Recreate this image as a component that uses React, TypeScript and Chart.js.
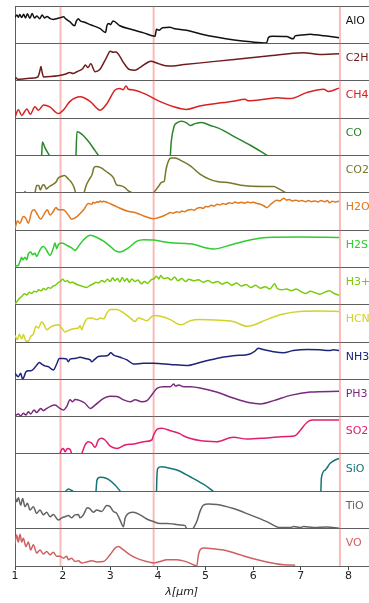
import { useEffect, useRef } from "react";
import { Chart, registerables } from "chart.js";

Chart.register(...registerables);

type Pt = [number, number | null];

// Normalised cross-section spectra, one panel per molecule (value 0..1 within its panel).
const ALO: Pt[] = [[1.0,0.70],[1.04,0.76],[1.07,0.70],[1.1,0.77],[1.14,0.69],[1.18,0.78],[1.22,0.68],[1.26,0.79],[1.31,0.67],[1.36,0.80],[1.41,0.68],[1.46,0.73],[1.52,0.66],[1.57,0.76],[1.62,0.68],[1.67,0.72],[1.74,0.66],[1.8,0.64],[1.87,0.66],[1.93,0.68],[1.98,0.70],[2.02,0.71],[2.06,0.66],[2.15,0.58],[2.25,0.47],[2.29,0.60],[2.33,0.66],[2.37,0.60],[2.45,0.57],[2.6,0.49],[2.78,0.40],[2.9,0.29],[2.93,0.48],[2.97,0.53],[3.0,0.50],[3.06,0.60],[3.2,0.47],[3.45,0.37],[3.7,0.28],[3.94,0.19],[3.97,0.38],[4.02,0.35],[4.1,0.42],[4.25,0.43],[4.33,0.40],[4.6,0.35],[4.9,0.25],[5.25,0.16],[5.6,0.09],[5.95,0.04],[6.28,0.01],[6.32,0.16],[6.4,0.19],[6.7,0.18],[6.84,0.12],[6.88,0.20],[7.0,0.22],[7.2,0.24],[7.3,0.23],[7.5,0.20],[7.8,0.15]];

const C2H2: Pt[] = [[1.0,0.03],[1.02,0.08],[1.05,0.04],[1.2,0.05],[1.4,0.07],[1.48,0.10],[1.52,0.25],[1.545,0.38],[1.57,0.22],[1.6,0.10],[1.75,0.11],[1.9,0.13],[2.05,0.17],[2.15,0.22],[2.22,0.19],[2.3,0.24],[2.42,0.32],[2.48,0.42],[2.53,0.35],[2.59,0.45],[2.68,0.24],[2.78,0.30],[2.92,0.62],[3.0,0.79],[3.06,0.76],[3.12,0.77],[3.2,0.65],[3.28,0.48],[3.4,0.30],[3.52,0.28],[3.62,0.35],[3.8,0.50],[3.85,0.52],[4.0,0.46],[4.22,0.39],[4.55,0.43],[5.0,0.49],[5.6,0.57],[6.3,0.66],[7.05,0.75],[7.4,0.70],[7.8,0.72]];

const CH4: Pt[] = [[1.0,0.02],[1.07,0.22],[1.14,0.07],[1.25,0.24],[1.32,0.10],[1.42,0.30],[1.49,0.21],[1.6,0.35],[1.73,0.30],[1.91,0.12],[2.02,0.22],[2.15,0.44],[2.37,0.57],[2.58,0.44],[2.79,0.21],[2.93,0.39],[3.1,0.75],[3.2,0.79],[3.27,0.76],[3.33,0.86],[3.38,0.77],[3.49,0.75],[3.77,0.62],[3.98,0.48],[4.33,0.30],[4.6,0.23],[4.88,0.32],[5.58,0.45],[5.83,0.50],[5.9,0.46],[6.28,0.51],[6.5,0.54],[6.78,0.52],[7.12,0.68],[7.48,0.77],[7.58,0.71],[7.8,0.80]];

const CO: Pt[] = [[1.56,0],[1.575,0.36],[1.63,0.20],[1.72,0],[1.73,null],[2.28,0],[2.30,0.63],[2.40,0.57],[2.54,0.375],[2.68,0.125],[2.75,0],[2.76,null],[4.26,0],[4.28,0.37],[4.34,0.78],[4.4,0.87],[4.5,0.91],[4.6,0.87],[4.68,0.80],[4.78,0.85],[4.92,0.88],[5.1,0.80],[5.27,0.73],[5.59,0.51],[5.94,0.27],[6.29,0]];

const CO2: Pt[] = [[1.2,0],[1.21,0.03],[1.22,0],[1.23,null],[1.42,0],[1.455,0.19],[1.5,0.19],[1.53,0.07],[1.575,0.19],[1.61,0.21],[1.66,0.10],[1.72,0.165],[1.78,0.21],[1.87,0.30],[1.9,0.38],[1.98,0.44],[2.04,0.46],[2.1,0.39],[2.17,0.30],[2.24,0.14],[2.27,0],[2.28,null],[2.45,0],[2.5,0.21],[2.57,0.38],[2.62,0.49],[2.65,0.65],[2.7,0.70],[2.8,0.67],[2.9,0.58],[3.07,0.39],[3.13,0.21],[3.2,0.19],[3.3,0.14],[3.38,0.05],[3.46,0],[3.47,null],[3.91,0],[4.01,0.165],[4.08,0.28],[4.13,0.30],[4.17,0.62],[4.22,0.85],[4.27,0.93],[4.36,0.93],[4.5,0.85],[4.68,0.72],[4.89,0.49],[5.1,0.35],[5.24,0.30],[5.52,0.26],[5.8,0.19],[6.22,0.165],[6.43,0.165],[6.54,0.10],[6.68,0]];

const H2O: Pt[] = [[1.0,0.04],[1.05,0.24],[1.1,0.18],[1.175,0.36],[1.23,0.31],[1.28,0.18],[1.35,0.49],[1.4,0.54],[1.455,0.45],[1.54,0.29],[1.6,0.40],[1.68,0.54],[1.735,0.40],[1.8,0.49],[1.86,0.60],[1.9,0.55],[1.945,0.54],[2.015,0.54],[2.12,0.40],[2.19,0.29],[2.3,0.36],[2.44,0.54],[2.54,0.71],[2.61,0.69],[2.64,0.74],[2.68,0.72],[2.72,0.76],[2.76,0.74],[2.79,0.78],[2.82,0.75],[2.85,0.77],[2.93,0.74],[3.14,0.62],[3.35,0.51],[3.56,0.45],[3.7,0.375],[3.91,0.30],[4.0,0.33],[4.08,0.36],[4.15,0.40],[4.2,0.43],[4.26,0.47],[4.32,0.45],[4.4,0.49],[4.45,0.47],[4.5,0.51],[4.56,0.49],[4.62,0.53],[4.7,0.55],[4.76,0.53],[4.82,0.58],[4.89,0.60],[4.95,0.58],[5.0,0.63],[5.05,0.62],[5.12,0.66],[5.18,0.64],[5.24,0.69],[5.3,0.67],[5.36,0.71],[5.42,0.69],[5.5,0.73],[5.56,0.71],[5.62,0.75],[5.68,0.72],[5.75,0.74],[5.82,0.72],[5.88,0.75],[5.94,0.73],[6.0,0.74],[6.08,0.71],[6.15,0.69],[6.22,0.65],[6.29,0.60],[6.35,0.67],[6.42,0.74],[6.49,0.80],[6.56,0.78],[6.64,0.85],[6.7,0.80],[6.75,0.82],[6.82,0.78],[6.9,0.80],[6.96,0.77],[7.02,0.79],[7.1,0.76],[7.16,0.79],[7.22,0.76],[7.3,0.78],[7.36,0.75],[7.42,0.79],[7.5,0.76],[7.56,0.79],[7.6,0.73],[7.66,0.77],[7.72,0.75],[7.8,0.77]];

const H2S: Pt[] = [[1.0,0.03],[1.07,0.05],[1.105,0.16],[1.14,0.27],[1.16,0.2],[1.21,0.27],[1.245,0.2],[1.28,0.36],[1.33,0.41],[1.37,0.34],[1.42,0.38],[1.455,0.29],[1.51,0.43],[1.56,0.54],[1.6,0.56],[1.665,0.45],[1.735,0.32],[1.805,0.52],[1.84,0.65],[1.875,0.50],[1.91,0.61],[1.98,0.65],[2.085,0.59],[2.19,0.52],[2.26,0.45],[2.33,0.56],[2.44,0.74],[2.58,0.86],[2.72,0.80],[2.86,0.70],[3.0,0.56],[3.1,0.45],[3.2,0.41],[3.38,0.52],[3.56,0.70],[3.7,0.74],[3.91,0.73],[4.26,0.66],[4.68,0.63],[5.16,0.49],[5.58,0.62],[5.93,0.73],[6.28,0.80],[7.0,0.81],[7.8,0.80]];

const H3P: Pt[] = [[1.0,0.02],[1.05,0.10],[1.1,0.18],[1.14,0.22],[1.2,0.29],[1.25,0.26],[1.3,0.33],[1.35,0.30],[1.4,0.36],[1.45,0.34],[1.5,0.40],[1.55,0.37],[1.6,0.43],[1.65,0.40],[1.7,0.46],[1.75,0.44],[1.8,0.50],[1.85,0.52],[1.9,0.58],[1.95,0.62],[2.0,0.68],[2.05,0.62],[2.1,0.64],[2.15,0.59],[2.2,0.60],[2.3,0.54],[2.4,0.50],[2.5,0.46],[2.58,0.52],[2.65,0.56],[2.7,0.60],[2.75,0.58],[2.82,0.65],[2.88,0.61],[2.94,0.68],[3.0,0.62],[3.05,0.72],[3.1,0.64],[3.15,0.70],[3.2,0.61],[3.25,0.73],[3.3,0.63],[3.35,0.70],[3.4,0.60],[3.45,0.69],[3.52,0.62],[3.58,0.66],[3.65,0.56],[3.72,0.62],[3.78,0.57],[3.85,0.66],[3.92,0.70],[3.97,0.76],[4.02,0.69],[4.06,0.78],[4.12,0.70],[4.2,0.72],[4.28,0.66],[4.35,0.74],[4.42,0.64],[4.5,0.70],[4.58,0.62],[4.65,0.68],[4.75,0.64],[4.85,0.67],[4.95,0.60],[5.05,0.65],[5.15,0.58],[5.25,0.62],[5.35,0.55],[5.45,0.60],[5.55,0.52],[5.65,0.58],[5.75,0.50],[5.85,0.54],[5.95,0.46],[6.05,0.52],[6.15,0.44],[6.25,0.48],[6.35,0.42],[6.45,0.56],[6.5,0.44],[6.6,0.40],[6.7,0.42],[6.8,0.37],[6.9,0.42],[7.0,0.35],[7.1,0.30],[7.2,0.36],[7.3,0.32],[7.4,0.28],[7.5,0.33],[7.6,0.37],[7.7,0.30],[7.8,0.25]];

const HCN: Pt[] = [[1.0,0.18],[1.05,0.06],[1.09,0.21],[1.14,0.09],[1.175,0.2],[1.23,0.02],[1.28,0.02],[1.33,0.15],[1.385,0.21],[1.44,0.42],[1.49,0.375],[1.56,0.54],[1.61,0.46],[1.665,0.33],[1.72,0.375],[1.77,0.42],[1.84,0.45],[1.91,0.46],[1.98,0.375],[2.05,0.27],[2.155,0.33],[2.26,0.36],[2.33,0.375],[2.365,0.44],[2.4,0.33],[2.44,0.46],[2.52,0.63],[2.61,0.64],[2.72,0.60],[2.79,0.64],[2.86,0.62],[2.93,0.78],[3.0,0.87],[3.14,0.87],[3.28,0.78],[3.42,0.64],[3.52,0.55],[3.59,0.64],[3.7,0.60],[3.77,0.57],[3.91,0.71],[4.05,0.69],[4.26,0.60],[4.47,0.46],[4.54,0.48],[4.68,0.57],[4.88,0.60],[5.2,0.59],[5.58,0.55],[5.87,0.42],[6.0,0.45],[6.28,0.60],[6.63,0.75],[6.98,0.82],[7.4,0.83],[7.8,0.82]];

const NH3: Pt[] = [[1.0,0.16],[1.07,0.07],[1.12,0.16],[1.16,0],[1.19,0.07],[1.23,0.205],[1.28,0.23],[1.33,0.23],[1.4,0.29],[1.455,0.38],[1.51,0.45],[1.56,0.41],[1.63,0.36],[1.7,0.34],[1.77,0.27],[1.805,0.25],[1.875,0.41],[1.93,0.56],[2.015,0.56],[2.085,0.54],[2.12,0.47],[2.155,0.54],[2.26,0.56],[2.365,0.59],[2.47,0.56],[2.58,0.52],[2.61,0.47],[2.66,0.52],[2.75,0.61],[2.86,0.625],[2.96,0.65],[3.01,0.71],[3.07,0.65],[3.21,0.59],[3.35,0.52],[3.49,0.41],[3.7,0.43],[3.91,0.43],[4.26,0.40],[4.6,0.37],[4.88,0.45],[5.23,0.56],[5.58,0.63],[5.93,0.68],[6.02,0.74],[6.11,0.83],[6.2,0.80],[6.42,0.74],[6.63,0.71],[6.84,0.77],[7.13,0.80],[7.4,0.79],[7.6,0.77],[7.68,0.79],[7.8,0.77]];

const PH3: Pt[] = [[1.0,0.02],[1.07,0.07],[1.12,0.02],[1.175,0.09],[1.23,0.045],[1.28,0.13],[1.33,0.07],[1.4,0.18],[1.455,0.11],[1.54,0.22],[1.595,0.16],[1.665,0.22],[1.735,0.27],[1.84,0.31],[1.945,0.22],[2.015,0.18],[2.085,0.27],[2.155,0.45],[2.21,0.40],[2.26,0.46],[2.365,0.43],[2.47,0.36],[2.58,0.22],[2.68,0.31],[2.86,0.49],[3.0,0.55],[3.14,0.54],[3.28,0.45],[3.42,0.40],[3.52,0.45],[3.66,0.40],[3.77,0.43],[3.87,0.58],[3.98,0.76],[4.12,0.80],[4.26,0.80],[4.33,0.875],[4.37,0.82],[4.44,0.85],[4.51,0.81],[4.68,0.80],[4.88,0.77],[5.23,0.66],[5.58,0.50],[5.93,0.37],[6.15,0.34],[6.43,0.43],[6.78,0.57],[7.2,0.66],[7.8,0.68]];

const SO2: Pt[] = [[1.94,0],[1.98,0.125],[2.015,0.15],[2.05,0.06],[2.1,0.15],[2.155,0.125],[2.19,0],[2.2,null],[2.4,0],[2.47,0.24],[2.54,0.33],[2.61,0.29],[2.68,0.18],[2.75,0.375],[2.82,0.42],[2.89,0.375],[3.0,0.21],[3.14,0.15],[3.31,0.24],[3.49,0.27],[3.7,0.33],[3.87,0.375],[3.91,0.51],[3.98,0.66],[4.08,0.69],[4.26,0.625],[4.47,0.54],[4.53,0.49],[4.88,0.36],[5.23,0.33],[5.58,0.45],[5.87,0.40],[6.28,0.43],[6.7,0.47],[6.88,0.49],[6.98,0.62],[7.13,0.85],[7.25,0.91],[7.8,0.91]];

const SIO: Pt[] = [[2.06,0],[2.12,0.06],[2.18,0.03],[2.22,0],[2.23,null],[2.7,0],[2.72,0.30],[2.79,0.375],[2.86,0.37],[2.96,0.32],[3.1,0.17],[3.21,0],[3.22,null],[3.97,0],[3.98,0.44],[4.0,0.62],[4.07,0.66],[4.18,0.64],[4.4,0.57],[4.675,0.39],[4.955,0.19],[5.165,0],[5.17,null],[7.42,0],[7.43,0.35],[7.51,0.57],[7.615,0.75],[7.72,0.84],[7.8,0.88]];

const TIO: Pt[] = [[1.0,0.86],[1.035,0.72],[1.07,0.83],[1.12,0.63],[1.16,0.81],[1.21,0.59],[1.26,0.68],[1.315,0.50],[1.385,0.59],[1.455,0.41],[1.525,0.50],[1.595,0.37],[1.665,0.44],[1.735,0.32],[1.805,0.38],[1.91,0.23],[1.98,0.29],[2.05,0.32],[2.12,0.35],[2.19,0.29],[2.26,0.37],[2.33,0.38],[2.365,0.29],[2.435,0.37],[2.52,0.56],[2.575,0.53],[2.645,0.44],[2.715,0.50],[2.82,0.46],[2.925,0.62],[2.995,0.59],[3.065,0.46],[3.135,0.41],[3.205,0.23],[3.275,0.05],[3.31,0.28],[3.38,0.41],[3.485,0.44],[3.625,0.37],[3.765,0.26],[3.905,0.19],[4.045,0.14],[4.185,0.14],[4.325,0.125],[4.465,0.10],[4.57,0.08],[4.6,0],[4.62,null],[4.74,0],[4.815,0.19],[4.885,0.47],[4.955,0.63],[5.06,0.66],[5.235,0.65],[5.585,0.54],[5.935,0.37],[6.285,0.19],[6.565,0.03],[6.775,0.03],[6.845,0.055],[6.985,0.03],[7.055,0.055],[7.265,0.03],[7.545,0.045],[7.8,0.01]];

const VO: Pt[] = [[1.0,0.61],[1.035,0.83],[1.07,0.64],[1.105,0.85],[1.14,0.64],[1.175,0.74],[1.23,0.52],[1.28,0.64],[1.33,0.43],[1.385,0.57],[1.455,0.345],[1.525,0.43],[1.595,0.32],[1.665,0.39],[1.735,0.30],[1.805,0.37],[1.875,0.26],[1.945,0.26],[2.015,0.21],[2.085,0.26],[2.12,0.17],[2.19,0.21],[2.26,0.12],[2.33,0.14],[2.4,0.08],[2.505,0.11],[2.61,0.14],[2.715,0.11],[2.855,0.12],[2.995,0.30],[3.1,0.48],[3.17,0.52],[3.275,0.43],[3.415,0.30],[3.625,0.17],[3.8,0.11],[3.905,0.08],[4.045,0.12],[4.185,0.17],[4.395,0.17],[4.605,0.11],[4.745,0.035],[4.815,0],[4.85,0.30],[4.885,0.43],[4.955,0.48],[5.165,0.46],[5.445,0.41],[5.725,0.30],[6.005,0.195],[6.285,0.11],[6.635,0.035],[6.88,0.02]];

const MOLECULES = ["AlO", "C2H2", "CH4", "CO", "CO2", "H2O", "H2S", "H3+", "HCN", "NH3", "PH3", "SO2", "SiO", "TiO", "VO"];
const SERIES: Pt[][] = [ALO, C2H2, CH4, CO, CO2, H2O, H2S, H3P, HCN, NH3, PH3, SO2, SIO, TIO, VO];
const COLORS = ["#111111", "#6e1c1c", "#d92121", "#2a842a", "#77772a", "#e0781e", "#2fcc2f", "#78cc0a", "#d2d22a", "#1c2478", "#7a2a7e", "#e0206e", "#157575", "#636363", "#d06060"];

// Band edges marked across every panel (μm)
const MARKERS = [1.955, 3.91, 7.82];

const X_MIN = 1;
const X_MAX = 8.43;
const LABEL_AT = 7.94;
const X_TITLE = "λ[μm]";

export default function App() {
  const ref = useRef<HTMLCanvasElement | null>(null);

  useEffect(() => {
    if (!ref.current) return;

    // Stacked left axes are laid out bottom-up in creation order,
    // so the last molecule's axis is created first.
    const yScales: Record<string, any> = {};
    for (let i = MOLECULES.length - 1; i >= 0; i--) {
      yScales["y" + i] = {
        type: "linear",
        position: "left",
        stack: "spectra",
        stackWeight: 1,
        min: 0,
        max: 1,
        ticks: { display: false, stepSize: 1 },
        grid: { drawTicks: false, color: "#5e5e5e", lineWidth: 1 },
        border: { display: true, color: "#5e5e5e" },
        afterFit: (s: any) => {
          s.width = 15;
        },
      };
    }

    const overlay = {
      id: "overlay",
      beforeDatasetsDraw(chart: any) {
        const { ctx, chartArea, scales } = chart;
        ctx.save();
        ctx.strokeStyle = "rgba(240, 90, 90, 0.42)";
        ctx.lineWidth = 2;
        for (const m of MARKERS) {
          const px = scales.x.getPixelForValue(m);
          ctx.beginPath();
          ctx.moveTo(px, chartArea.top);
          ctx.lineTo(px, chartArea.bottom);
          ctx.stroke();
        }
        ctx.restore();
      },
      afterDatasetsDraw(chart: any) {
        const { ctx, scales } = chart;
        ctx.save();
        ctx.font = "11px 'DejaVu Sans'";
        ctx.textAlign = "left";
        ctx.textBaseline = "middle";
        MOLECULES.forEach((name, i) => {
          const ys = scales["y" + i];
          ctx.fillStyle = COLORS[i];
          ctx.fillText(name, scales.x.getPixelForValue(LABEL_AT), ys.getPixelForValue(0.6));
        });
        ctx.fillStyle = "#222222";
        ctx.font = "italic 11px 'DejaVu Sans'";
        ctx.textAlign = "center";
        ctx.fillText(X_TITLE, scales.x.getPixelForValue(4.5), 592);
        ctx.restore();
      },
    };

    Chart.defaults.font.family = "'DejaVu Sans'";

    const chart = new Chart(ref.current, {
      type: "line",
      data: {
        datasets: SERIES.map((pts, i) => ({
          label: MOLECULES[i],
          data: pts.map(([x, y]) => ({ x, y })),
          yAxisID: "y" + i,
          xAxisID: "x",
          borderColor: COLORS[i],
          borderWidth: 1.5,
          pointRadius: 0,
          cubicInterpolationMode: "monotone" as const,
          spanGaps: false,
        })),
      },
      options: {
        responsive: false,
        animation: false,
        devicePixelRatio: 1,
        layout: { padding: { top: 6, right: 0, left: 0, bottom: 0 } },
        plugins: { legend: { display: false }, tooltip: { enabled: false } },
        scales: {
          x: {
            type: "linear",
            position: "bottom",
            min: X_MIN,
            max: X_MAX,
            ticks: { stepSize: 1, includeBounds: false, color: "#222222", font: { size: 11 }, padding: 0 },
            grid: { drawOnChartArea: false, drawTicks: true, tickLength: 4, color: "#444444" },
            border: { color: "#5e5e5e" },
            afterFit: (s: any) => {
              s.height = 37;
            },
          },
          ...yScales,
        },
      },
      plugins: [overlay],
    } as any);

    return () => chart.destroy();
  }, []);

  return (
    <canvas
      ref={ref}
      width={369}
      height={603}
      style={{ position: "absolute", left: 0, top: 0, width: 369, height: 603 }}
    />
  );
}
